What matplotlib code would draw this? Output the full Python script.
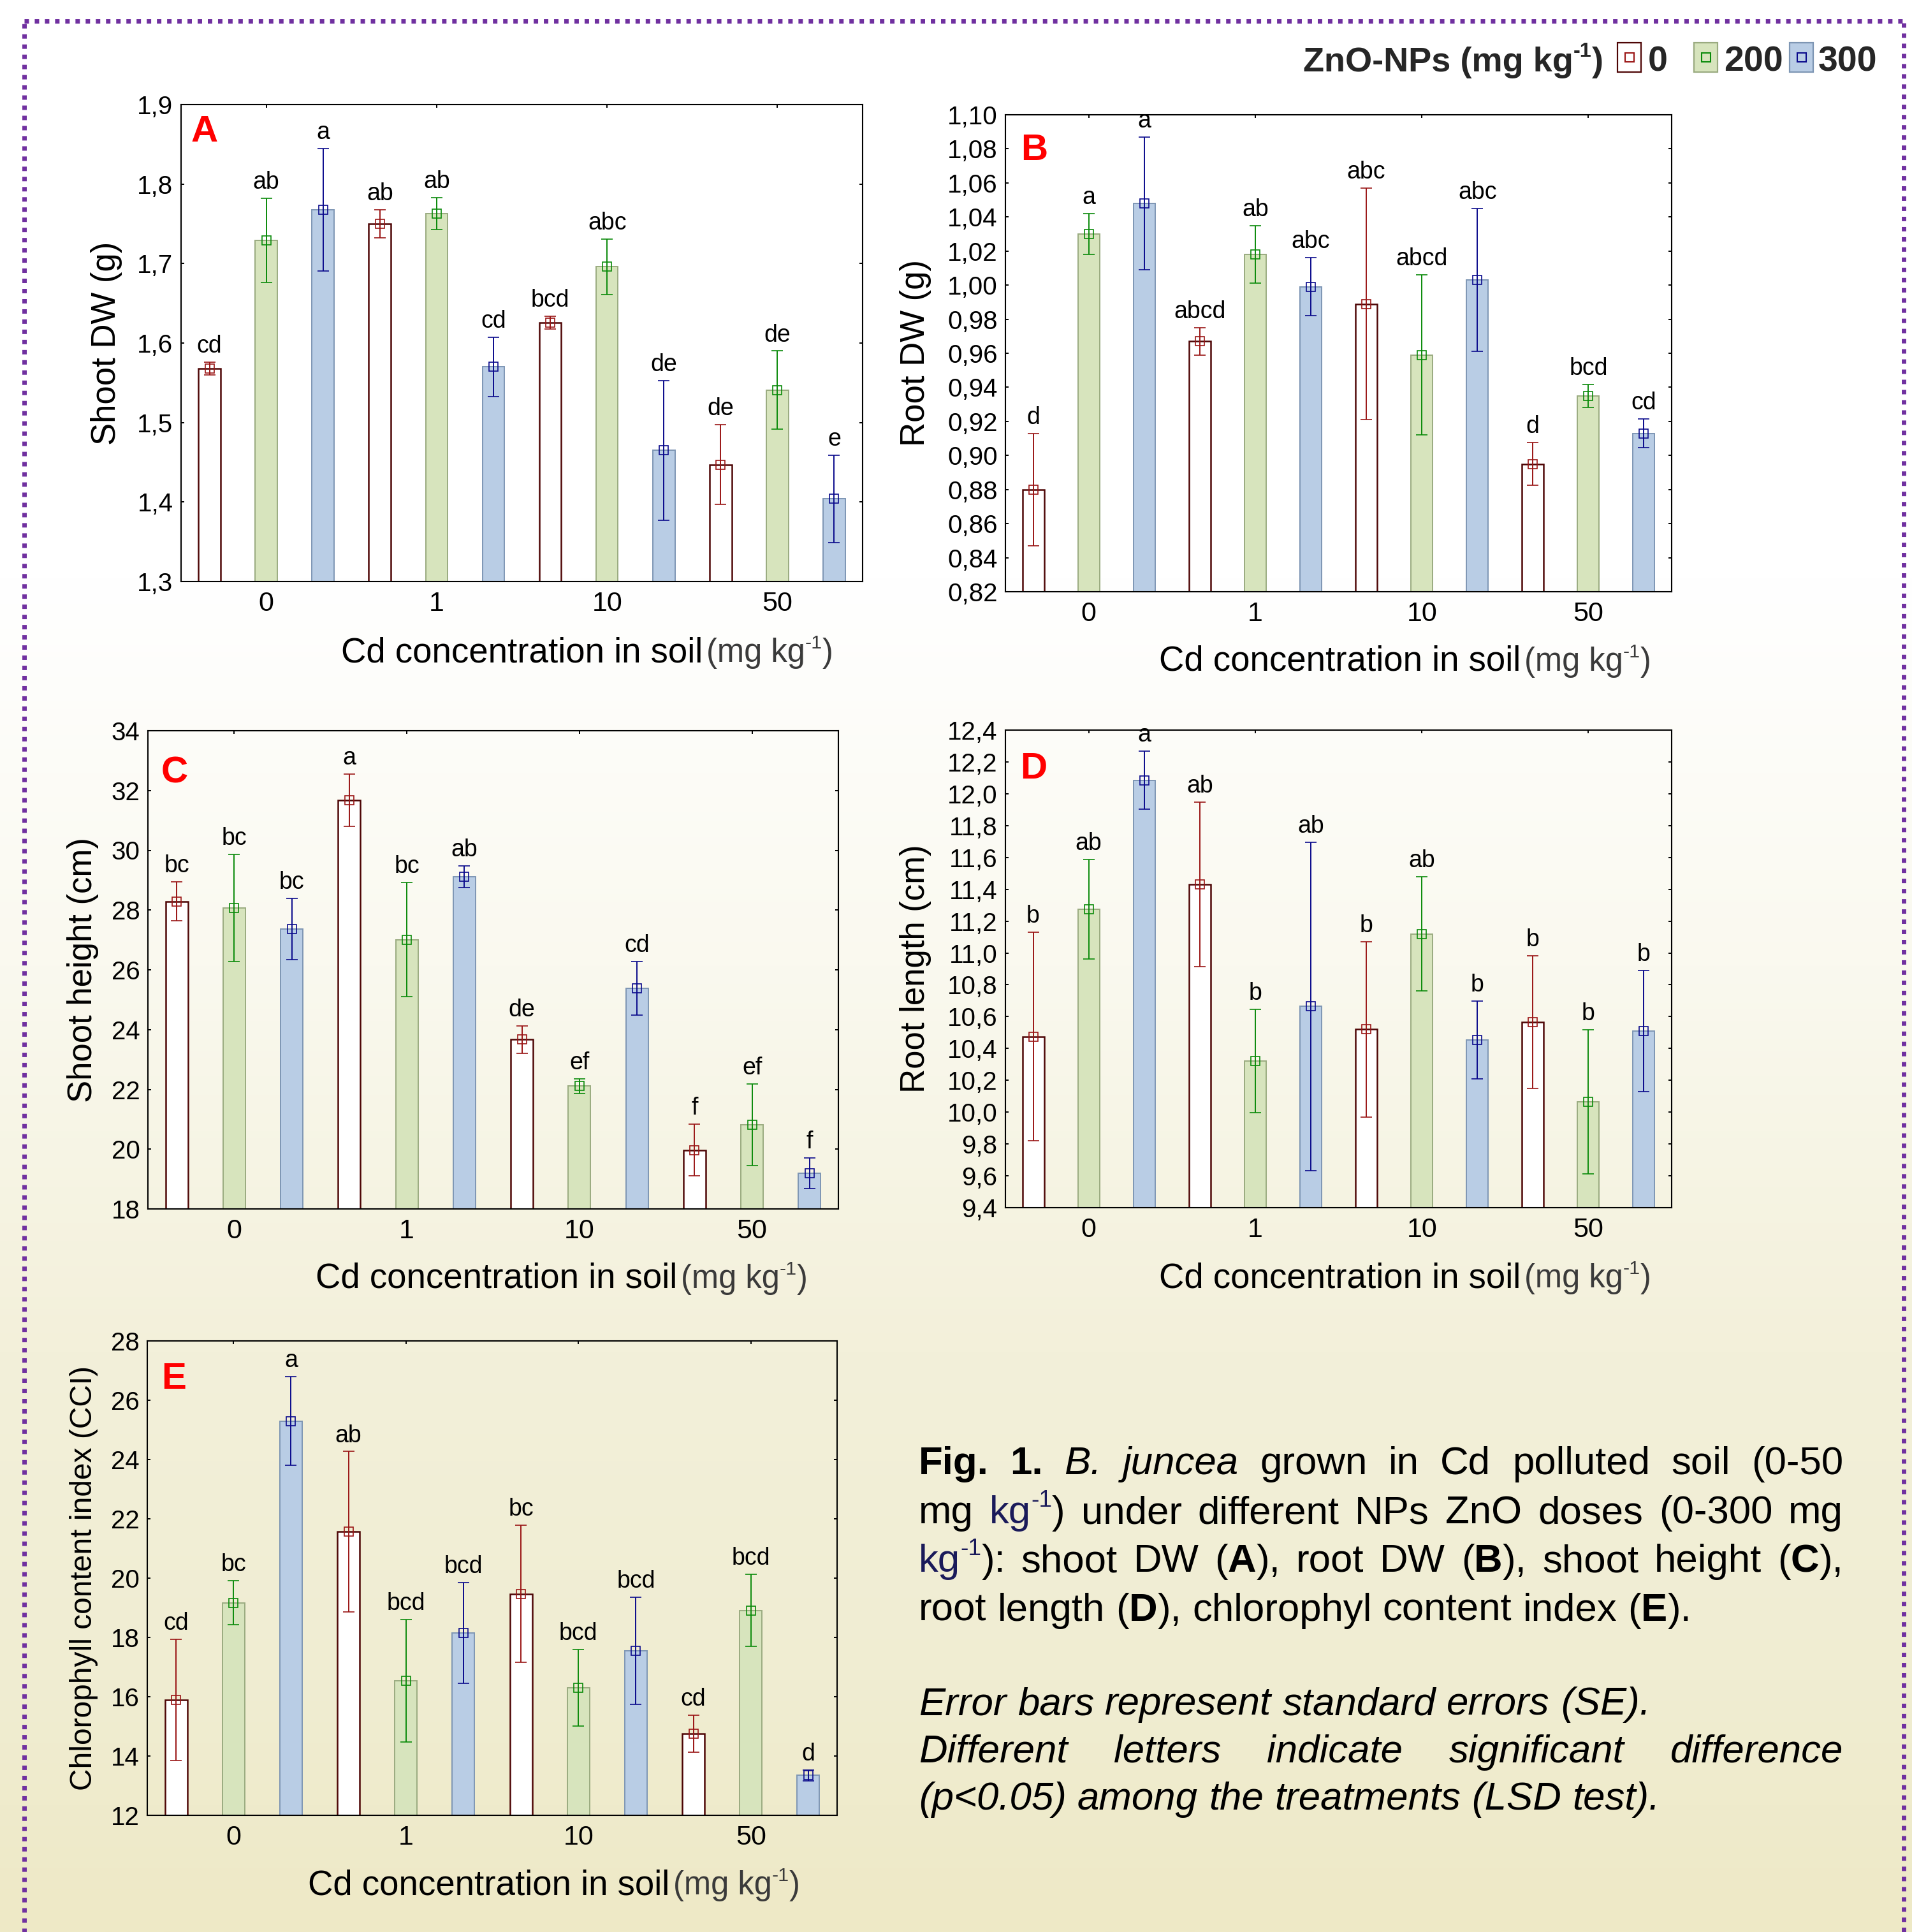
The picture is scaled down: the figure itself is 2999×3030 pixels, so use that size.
import numpy as np
import matplotlib
matplotlib.use("Agg")
import matplotlib.pyplot as plt
from matplotlib.lines import Line2D
from matplotlib.patches import Rectangle

plt.rcParams['font.family'] = ['Liberation Sans', 'DejaVu Sans']

# ---------------- data ----------------
cd_levels = ['0', '1', '10', '50']          # Cd concentration in soil (mg kg-1)
zno_doses = ['0', '200', '300']             # ZnO-NPs (mg kg-1)
# order of values: for each Cd level -> ZnO 0, 200, 300

shoot_dw_mean = [1.568, 1.729, 1.768, 1.750, 1.763, 1.570, 1.626, 1.696, 1.465, 1.447, 1.541, 1.404]
shoot_dw_se = [0.008, 0.053, 0.077, 0.018, 0.020, 0.037, 0.008, 0.035, 0.088, 0.050, 0.049, 0.055]
shoot_dw_letters = ['cd', 'ab', 'a', 'ab', 'ab', 'cd', 'bcd', 'abc', 'de', 'de', 'de', 'e']

root_dw_mean = [0.880, 1.030, 1.048, 0.967, 1.018, 0.999, 0.989, 0.959, 1.003, 0.895, 0.935, 0.913]
root_dw_se = [0.033, 0.012, 0.039, 0.008, 0.017, 0.017, 0.068, 0.047, 0.042, 0.0125, 0.0067, 0.0085]
root_dw_letters = ['d', 'a', 'a', 'abcd', 'ab', 'abc', 'abc', 'abcd', 'abc', 'd', 'bcd', 'cd']

shoot_h_mean = [28.29, 28.07, 27.37, 31.68, 27.01, 29.11, 23.67, 22.11, 25.38, 19.97, 20.82, 19.19]
shoot_h_se = [0.65, 1.80, 1.02, 0.87, 1.91, 0.36, 0.46, 0.24, 0.90, 0.87, 1.37, 0.51]
shoot_h_letters = ['bc', 'bc', 'bc', 'a', 'bc', 'ab', 'de', 'ef', 'cd', 'f', 'ef', 'f']

root_len_mean = [10.475, 11.275, 12.085, 11.43, 10.32, 10.665, 10.52, 11.12, 10.455, 10.565, 10.065, 10.51]
root_len_se = [0.654, 0.312, 0.183, 0.516, 0.325, 1.031, 0.551, 0.358, 0.244, 0.418, 0.454, 0.38]
root_len_letters = ['b', 'ab', 'a', 'ab', 'b', 'ab', 'b', 'ab', 'b', 'b', 'b', 'b']

cci_mean = [15.90, 19.17, 25.30, 21.57, 16.54, 18.15, 19.47, 16.31, 17.55, 14.75, 18.91, 13.35]
cci_se = [2.04, 0.75, 1.50, 2.70, 2.07, 1.69, 2.31, 1.29, 1.80, 0.62, 1.22, 0.18]
cci_letters = ['cd', 'bc', 'a', 'ab', 'bcd', 'bcd', 'bc', 'bcd', 'bcd', 'cd', 'bcd', 'd']

# ---------------- style ----------------
W, H = 2999, 3030
DPI = 100
face_cols = ['#ffffff', '#d7e4bd', '#b9cde5']
edge_cols = ['#4d0505', '#9aab80', '#7e96b4']
err_cols = ['#9a1515', '#0a8a0a', '#0a0a8c']
edge_lw = [1.8, 1.4, 1.4]

fig = plt.figure(figsize=(W / DPI, H / DPI), dpi=DPI)
renderer = fig.canvas.get_renderer()


def fx(x):
    return x / W


def fy(y):
    return 1 - y / H


# background gradient
bg = fig.add_axes([0, 0, 1, 1], zorder=-10)
stops_y = [0.0, 0.30, 0.50, 0.70, 0.87, 1.0]
stops_c = np.array([[255, 255, 255], [255, 255, 255], [250, 249, 239],
                    [243, 240, 218], [240, 237, 210], [238, 233, 198]]) / 255.0
yy = np.linspace(0, 1, 600)
grad = np.stack([np.interp(yy, stops_y, stops_c[:, k]) for k in range(3)], axis=-1)
bg.imshow(grad[:, None, :], aspect='auto', extent=[0, 1, 0, 1], interpolation='bilinear')
bg.set_xlim(0, 1)
bg.set_ylim(0, 1)
bg.axis('off')

# dotted purple border
border_kw = dict(color='#7030a0', lw=5.0, linestyle=(0, (1, 1.3)),
                 dash_capstyle='butt', transform=fig.transFigure)
fig.add_artist(Line2D([fx(38), fx(38)], [fy(3040), fy(30)], **border_kw))
fig.add_artist(Line2D([fx(38), fx(2986)], [fy(33), fy(33)], **border_kw))
fig.add_artist(Line2D([fx(2986), fx(2986)], [fy(36), fy(3040)], **border_kw))


def draw_runs(x, y_base, runs, fs, color='black', dry=False):
    """Draw a sequence of styled text runs starting at px x, baseline px y."""
    for s, f in runs:
        size = fs * 0.6 if 's' in f else fs
        dy = fs * 0.42 * DPI / 72 if 's' in f else 0
        col = '#1a1a5a' if 'n' in f else color
        t = fig.text(fx(x), fy(y_base - dy), s, fontsize=size,
                     fontweight='bold' if 'b' in f else 'normal',
                     fontstyle='italic' if 'i' in f else 'normal',
                     color=col, ha='left', va='baseline')
        w = t.get_window_extent(renderer).width
        if dry:
            t.remove()
        x += w
    return x


def draw_line(words, y_base, fs, x0, x1, justify, base=''):
    words = [[(s, f + base) for s, f in wd] for wd in words]
    widths = [draw_runs(0, 0, wd, fs, dry=True) for wd in words]
    space = 0.278 * fs * DPI / 72
    if justify and len(words) > 1:
        space = (x1 - x0 - sum(widths)) / (len(words) - 1)
    x = x0
    for wd, w in zip(words, widths):
        draw_runs(x, y_base, wd, fs)
        x += w + space


def fmt_ticks(vals, dec):
    if dec == 0:
        return [f"{v:.0f}" for v in vals]
    return [f"{v:.{dec}f}".replace('.', ',') for v in vals]


panels = [
    dict(mean=shoot_dw_mean, se=shoot_dw_se, let=shoot_dw_letters, box=(284, 164, 1353, 912),
         ylim=(1.3, 1.9), step=0.1, dec=1, ylabel='Shoot DW (g)', ylx=167, yfs=38,
         tag='A', tagxy=(300, 222), xl_split=1102, xl_base=1038),
    dict(mean=root_dw_mean, se=root_dw_se, let=root_dw_letters, box=(1577, 180, 2622, 928),
         ylim=(0.82, 1.10), step=0.02, dec=2, ylabel='Root DW (g)', ylx=1436, yfs=38,
         tag='B', tagxy=(1601, 251), xl_split=2385, xl_base=1052),
    dict(mean=shoot_h_mean, se=shoot_h_se, let=shoot_h_letters, box=(232, 1146, 1315, 1896),
         ylim=(18, 34), step=2, dec=0, ylabel='Shoot height (cm)', ylx=130, yfs=38,
         tag='C', tagxy=(253, 1227), xl_split=1062, xl_base=2020),
    dict(mean=root_len_mean, se=root_len_se, let=root_len_letters, box=(1577, 1145, 2622, 1894),
         ylim=(9.4, 12.4), step=0.2, dec=1, ylabel='Root length (cm)', ylx=1436, yfs=38,
         tag='D', tagxy=(1600, 1221), xl_split=2385, xl_base=2019),
    dict(mean=cci_mean, se=cci_se, let=cci_letters, box=(231, 2103, 1313, 2847),
         ylim=(12, 28), step=2, dec=0, ylabel='Chlorophyll content index (CCI)', ylx=132, yfs=34.5,
         tag='E', tagxy=(253, 2178), xl_split=1050, xl_base=2971),
]

n_groups = len(cd_levels)
n_dose = len(zno_doses)
bar_w = 0.39

for p in panels:
    l, t, r, b = p['box']
    ax = fig.add_axes([fx(l), fy(b), (r - l) / W, (b - t) / H])
    ax.set_facecolor('none')
    lo, hi = p['ylim']
    mean = np.array(p['mean'])
    se = np.array(p['se'])
    for d in range(n_dose):
        idx = np.arange(n_groups) * n_dose + d
        ax.bar(idx, mean[idx] - lo, bottom=lo, width=bar_w, color=face_cols[d],
               edgecolor=edge_cols[d], linewidth=edge_lw[d], zorder=2)
        ax.errorbar(idx, mean[idx], yerr=se[idx], fmt='s', mfc='none', mec=err_cols[d],
                    mew=1.2, ms=9.5, ecolor=err_cols[d], elinewidth=1.4, capsize=6.5,
                    capthick=1.4, zorder=3)
        for i in idx:
            ax.annotate(p['let'][i], xy=(i, mean[i] + se[i]), xytext=(0, 5),
                        textcoords='offset points', ha='center', va='bottom',
                        fontsize=27, color='black', zorder=4)
    ax.set_xlim(-0.5, n_groups * n_dose - 0.5)
    ax.set_ylim(lo, hi)
    ax.set_xticks(np.arange(n_groups) * n_dose + 1)
    ax.set_xticklabels(cd_levels)
    yt = np.round(np.arange(lo, hi + p['step'] / 2, p['step']), 3)
    ax.set_yticks(yt)
    ax.set_yticklabels(fmt_ticks(yt, p['dec']))
    ax.tick_params(axis='both', direction='in', top=True, right=True, length=3.6, width=1.4)
    ax.tick_params(axis='x', labelsize=31, pad=11)
    ax.tick_params(axis='y', labelsize=29, pad=9)
    for sp in ax.spines.values():
        sp.set_linewidth(1.5)
    # y label
    fig.text(fx(p['ylx']), fy((t + b) / 2), p['ylabel'], rotation=90, ha='center', va='center',
             fontsize=p['yfs'], color='black')
    # x label
    fig.text(fx(p['xl_split']), fy(p['xl_base']), 'Cd concentration in soil', ha='right',
             va='baseline', fontsize=39.3, color='black')
    draw_runs(p['xl_split'] + 6, p['xl_base'], [('(mg kg', ''), ('-1', 's'), (')', '')], 36.5,
              color='#3a3a3a')
    # panel tag
    fig.text(fx(p['tagxy'][0]), fy(p['tagxy'][1]), p['tag'], ha='left', va='baseline',
             fontsize=42, fontweight='bold', color='#ff0000')

# ---------------- legend ----------------
leg_fs = 39
draw_runs(2044, 112, [('ZnO-NPs (mg kg', 'b'), ('-1', 'bs'), (')', 'b')], leg_fs, color='#262626')
leg_boxes = [(2537, 2574), (2657, 2694), (2807, 2844)]
leg_text_x = [2585, 2704, 2852]
for d in range(n_dose):
    x0, x1 = leg_boxes[d]
    fig.add_artist(Rectangle((fx(x0), fy(113)), (x1 - x0) / W, 46 / H, transform=fig.transFigure,
                             facecolor=face_cols[d], edgecolor=edge_cols[d], linewidth=1.6))
    fig.add_artist(Line2D([fx((x0 + x1) / 2)], [fy(90)], marker='s', ms=10, mfc='none',
                          mec=err_cols[d], mew=1.5, transform=fig.transFigure))
    draw_runs(leg_text_x[d], 112, [(zno_doses[d], 'b')], leg_fs + 1, color='#262626')

# ---------------- caption ----------------
cap_fs = 44.5
X0, X1 = 1441, 2891
cap_lines = [
    ([[('Fig.', 'b')], [('1.', 'b')], [('B.', 'i')], [('juncea', 'i')], [('grown', '')], [('in', '')],
      [('Cd', '')], [('polluted', '')], [('soil', '')], [('(0-50', '')]], 2312, True, ''),
    ([[('mg', '')], [('kg', 'n'), ('-1', 'ns'), (')', '')], [('under', '')], [('different', '')],
      [('NPs', '')], [('ZnO', '')], [('doses', '')], [('(0-300', '')], [('mg', '')]], 2389, True, ''),
    ([[('kg', 'n'), ('-1', 'ns'), ('):', '')], [('shoot', '')], [('DW', '')],
      [('(', ''), ('A', 'b'), ('),', '')], [('root', '')], [('DW', '')],
      [('(', ''), ('B', 'b'), ('),', '')], [('shoot', '')], [('height', '')],
      [('(', ''), ('C', 'b'), ('),', '')]], 2465, True, ''),
    ([[('root', '')], [('length', '')], [('(', ''), ('D', 'b'), ('),', '')], [('chlorophyl', '')],
      [('content', '')], [('index', '')], [('(', ''), ('E', 'b'), (').', '')]], 2542, False, ''),
    ([[(w, '')] for w in 'Error bars represent standard errors (SE).'.split()], 2689, False, 'i'),
    ([[(w, '')] for w in 'Different letters indicate significant difference'.split()], 2764, True, 'i'),
    ([[(w, '')] for w in '(p<0.05) among the treatments (LSD test).'.split()], 2838, False, 'i'),
]
for words, yb, just, base in cap_lines:
    draw_line(words, yb, cap_fs, X0, X1, just, base)

fig.savefig('out.png', dpi=DPI)
